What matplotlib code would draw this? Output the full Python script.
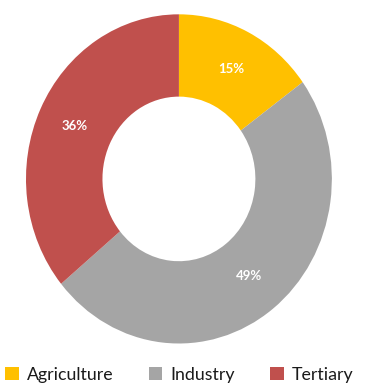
import matplotlib
matplotlib.use("Agg")
import matplotlib.pyplot as plt

# Share of value added by sector
sectors = ["Agriculture", "Industry", "Tertiary"]
shares = [15, 49, 36]
colors = ["#FFC000", "#A5A5A5", "#C0504D"]

plt.rcParams["font.family"] = ["Lato", "DejaVu Sans"]

fig = plt.figure(figsize=(3.65, 3.85), dpi=100)
ax = fig.add_axes([0.0712, 0.1078, 0.838, 0.855])

wedges, texts, autotexts = ax.pie(
    shares,
    colors=colors,
    startangle=90,
    counterclock=False,
    radius=1.0,
    wedgeprops=dict(width=0.5, linewidth=0),
    autopct="%.0f%%",
    pctdistance=0.75,
    textprops=dict(color="white", fontsize=9.5, fontweight="bold"),
)
ax.set_aspect("auto")
ax.set_xlim(-1, 1)
ax.set_ylim(-1, 1)
ax.axis("off")

leg = fig.legend(
    wedges, sectors,
    loc="lower left",
    bbox_to_anchor=(-0.005, -0.012),
    ncol=3,
    frameon=False,
    fontsize=12.8,
    handlelength=0.75,
    handleheight=0.75,
    handletextpad=0.45,
    columnspacing=2.0,
    borderaxespad=0,
)
for t in leg.get_texts():
    t.set_color("#1a1a1a")

fig.savefig("out.png", dpi=100, facecolor="white")
